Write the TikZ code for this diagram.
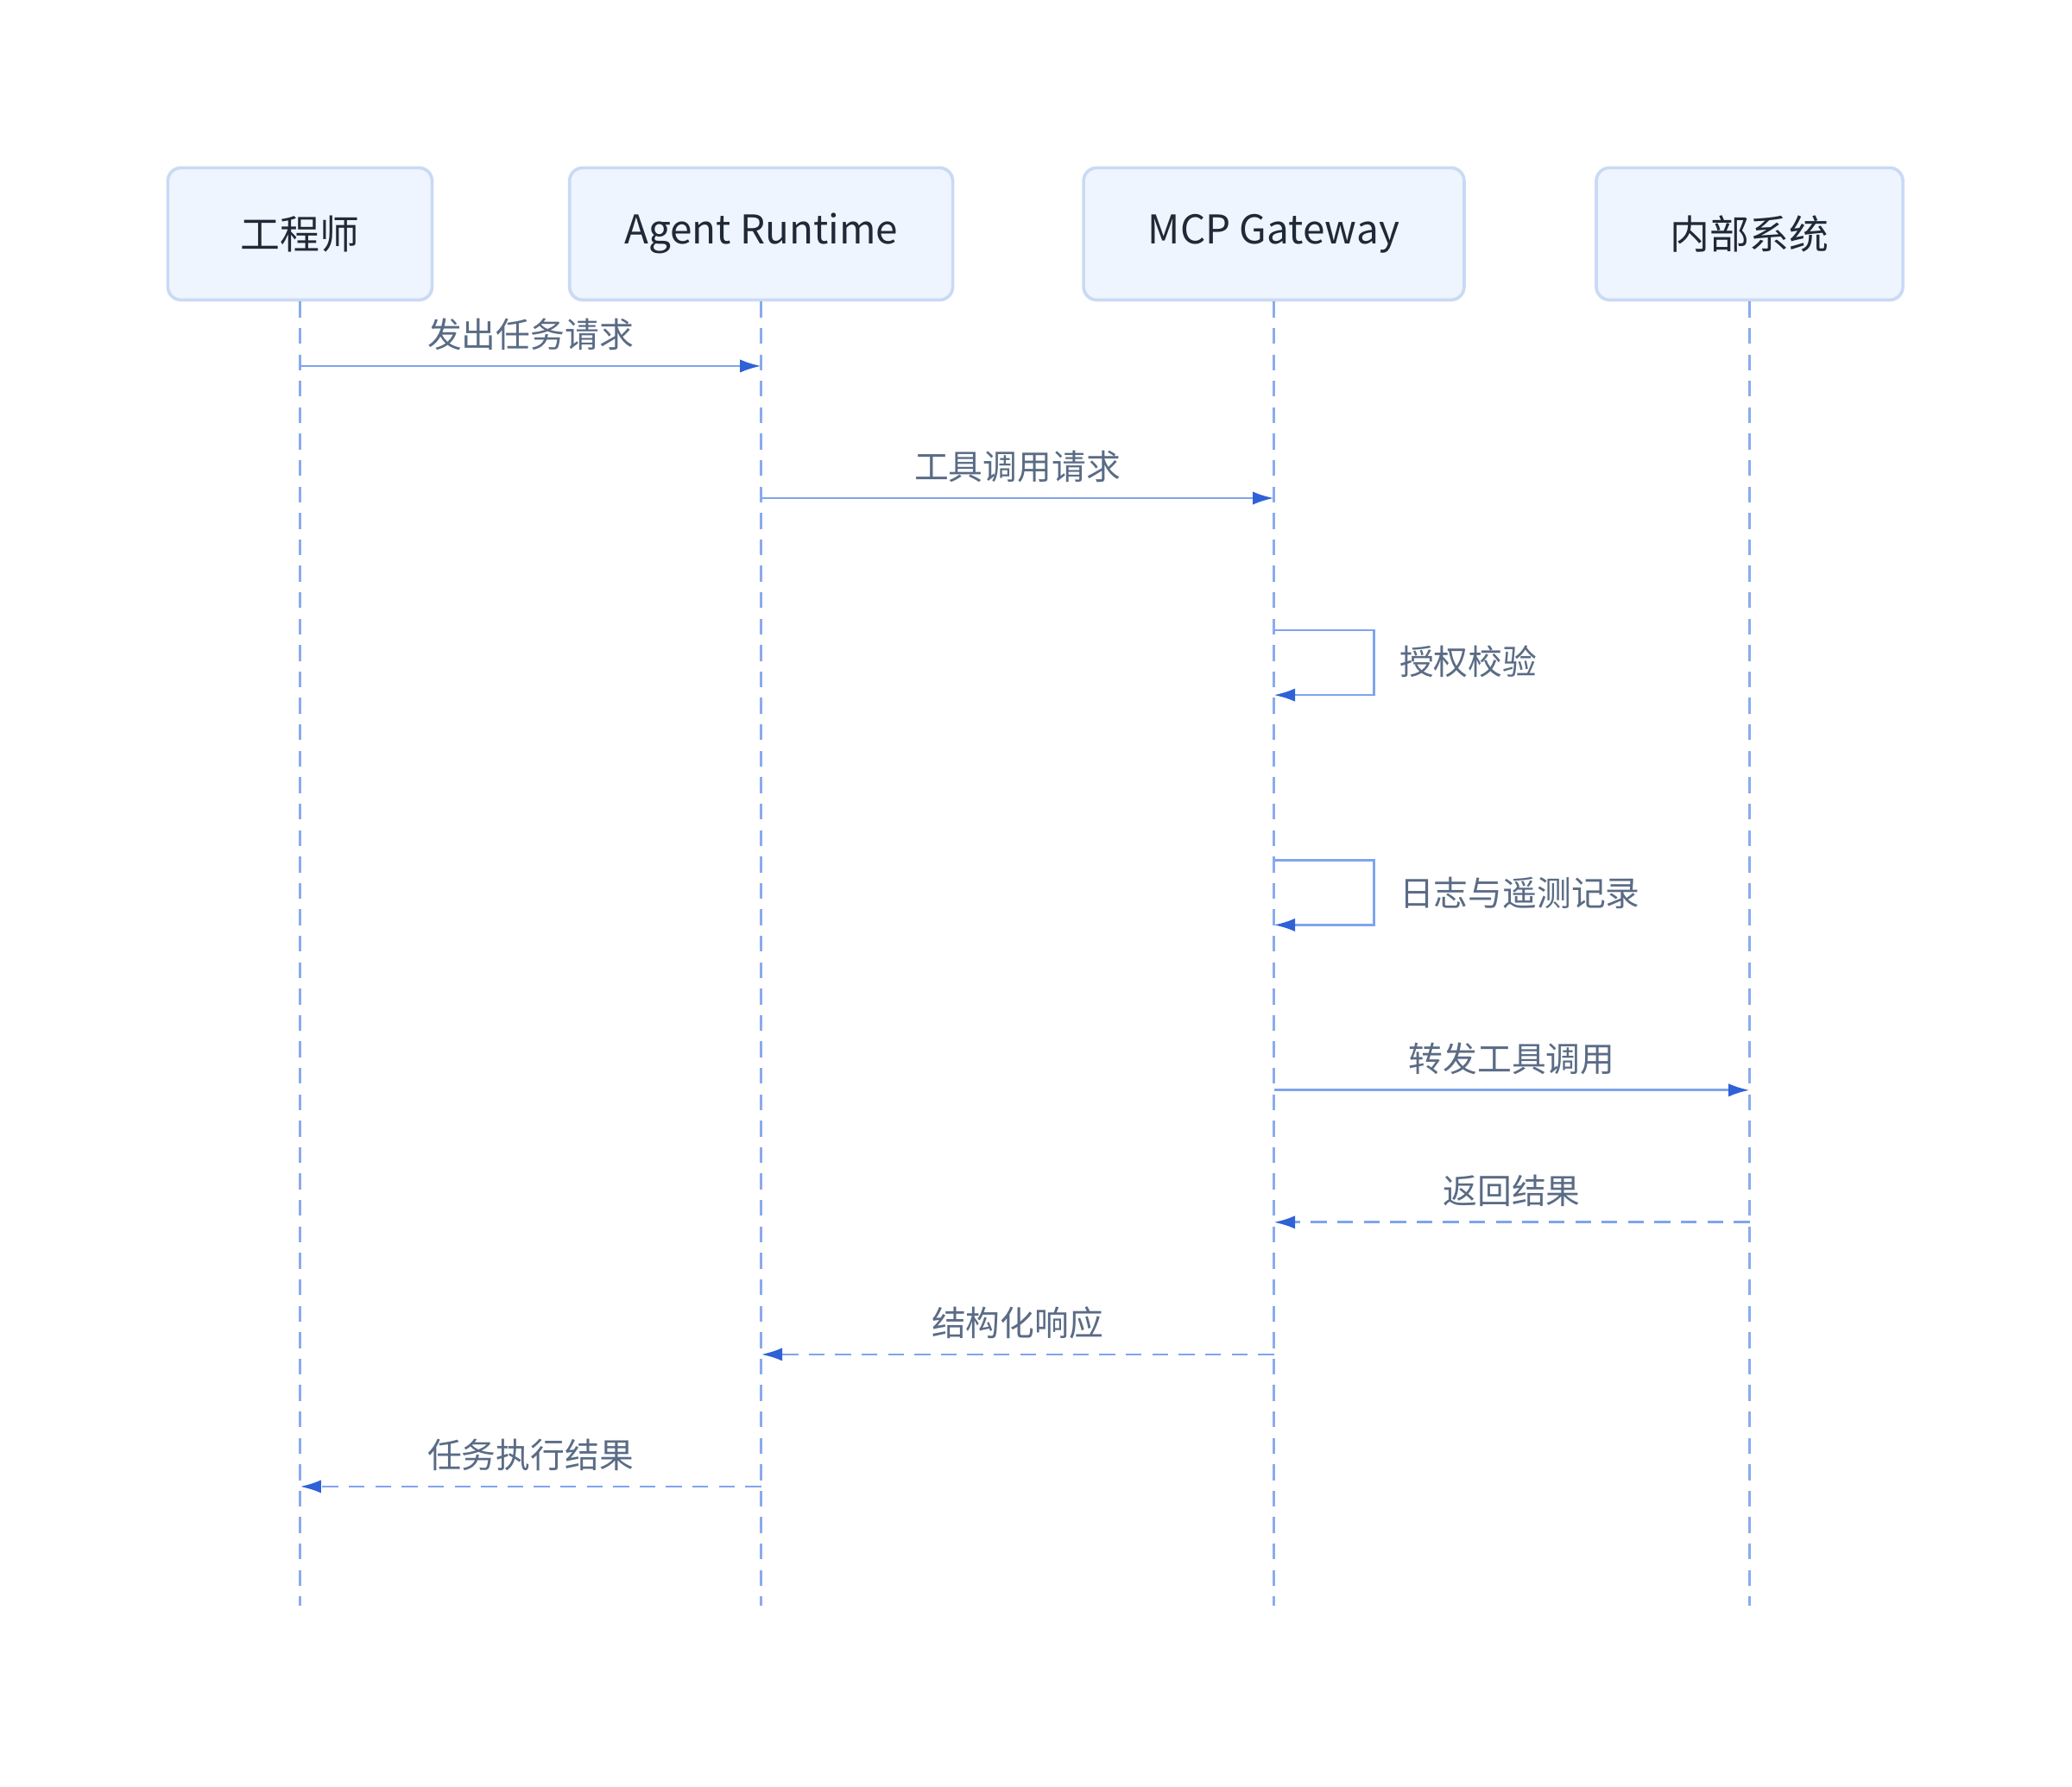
\documentclass[tikz,border=0pt]{standalone}
\usepackage{fontspec}
\setmainfont{Noto Sans CJK SC}
\usetikzlibrary{arrows.meta}
\definecolor{boxfill}{HTML}{EFF5FE}
\definecolor{boxline}{HTML}{C9DAF5}
\definecolor{lifeline}{HTML}{8AABEF}
\definecolor{msgline}{HTML}{7FA4EE}
\definecolor{msghead}{HTML}{2F62D6}
\definecolor{msgtext}{HTML}{5A6B85}
\definecolor{boxtext}{HTML}{1F2937}
\tikzset{
  actor/.style={draw=boxline,fill=boxfill,line width=1.2pt,rounded corners=5pt,
    minimum height=50pt,text=boxtext,font=\fontsize{15}{18}\selectfont},
  life/.style={draw=lifeline,line width=0.8pt,dash pattern=on 6pt off 4pt},
  call/.style={draw=msgline,line width=0.9pt,-{Latex[length=8pt,width=5pt,color=msghead]}},
  reply/.style={call,dash pattern=on 6pt off 4pt},
  msg/.style={text=msgtext,font=\fontsize{13}{16}\selectfont},
}
\begin{document}
\begin{tikzpicture}[x=0.5pt,y=-0.5pt]
    \useasboundingbox (0,0) rectangle (1568,1352);

    % participants
    \node[actor,minimum width=100pt] (eng) at (227,177) {工程师};
    \node[actor,minimum width=145pt] (agent) at (576,177) {Agent Runtime};
    \node[actor,minimum width=144pt] (gw) at (964,177) {MCP Gateway};
    \node[actor,minimum width=116pt] (sys) at (1324,177) {内部系统};

    % lifelines
    \coordinate (engend) at (227,1215);
    \coordinate (agentend) at (576,1215);
    \coordinate (gwend) at (964,1215);
    \coordinate (sysend) at (1324,1215);
    \draw[life] (eng.south) -- (engend);
    \draw[life] (agent.south) -- (agentend);
    \draw[life] (gw.south) -- (gwend);
    \draw[life] (sys.south) -- (sysend);

    % messages
    \coordinate (m1a) at (227,277); \coordinate (m1b) at (576,277);
    \draw[call] (m1a) -- node[msg,above=2pt] (l1) {发出任务请求} (m1b);

    \coordinate (m2a) at (576,377); \coordinate (m2b) at (964,377);
    \draw[call] (m2a) -- node[msg,above=2pt] (l2) {工具调用请求} (m2b);

    \coordinate (s1a) at (964,477); \coordinate (s1b) at (964,526);
    \draw[call] (s1a) -- ++(76,0) |- (s1b);
    \node[msg,anchor=west] (l3) at (1052,501) {授权校验};

    \coordinate (s2a) at (964,651); \coordinate (s2b) at (964,700);
    \draw[call] (s2a) -- ++(76,0) |- (s2b);
    \node[msg,anchor=west] (l4) at (1052,676) {日志与遥测记录};

    \coordinate (m5a) at (964,825); \coordinate (m5b) at (1324,825);
    \draw[call] (m5a) -- node[msg,above=2pt] (l5) {转发工具调用} (m5b);

    \coordinate (m6a) at (1324,925); \coordinate (m6b) at (964,925);
    \draw[reply] (m6a) -- node[msg,above=2pt] (l6) {返回结果} (m6b);

    \coordinate (m7a) at (964,1025); \coordinate (m7b) at (576,1025);
    \draw[reply] (m7a) -- node[msg,above=2pt] (l7) {结构化响应} (m7b);

    \coordinate (m8a) at (576,1125); \coordinate (m8b) at (227,1125);
    \draw[reply] (m8a) -- node[msg,above=2pt] (l8) {任务执行结果} (m8b);
\end{tikzpicture}
\end{document}
